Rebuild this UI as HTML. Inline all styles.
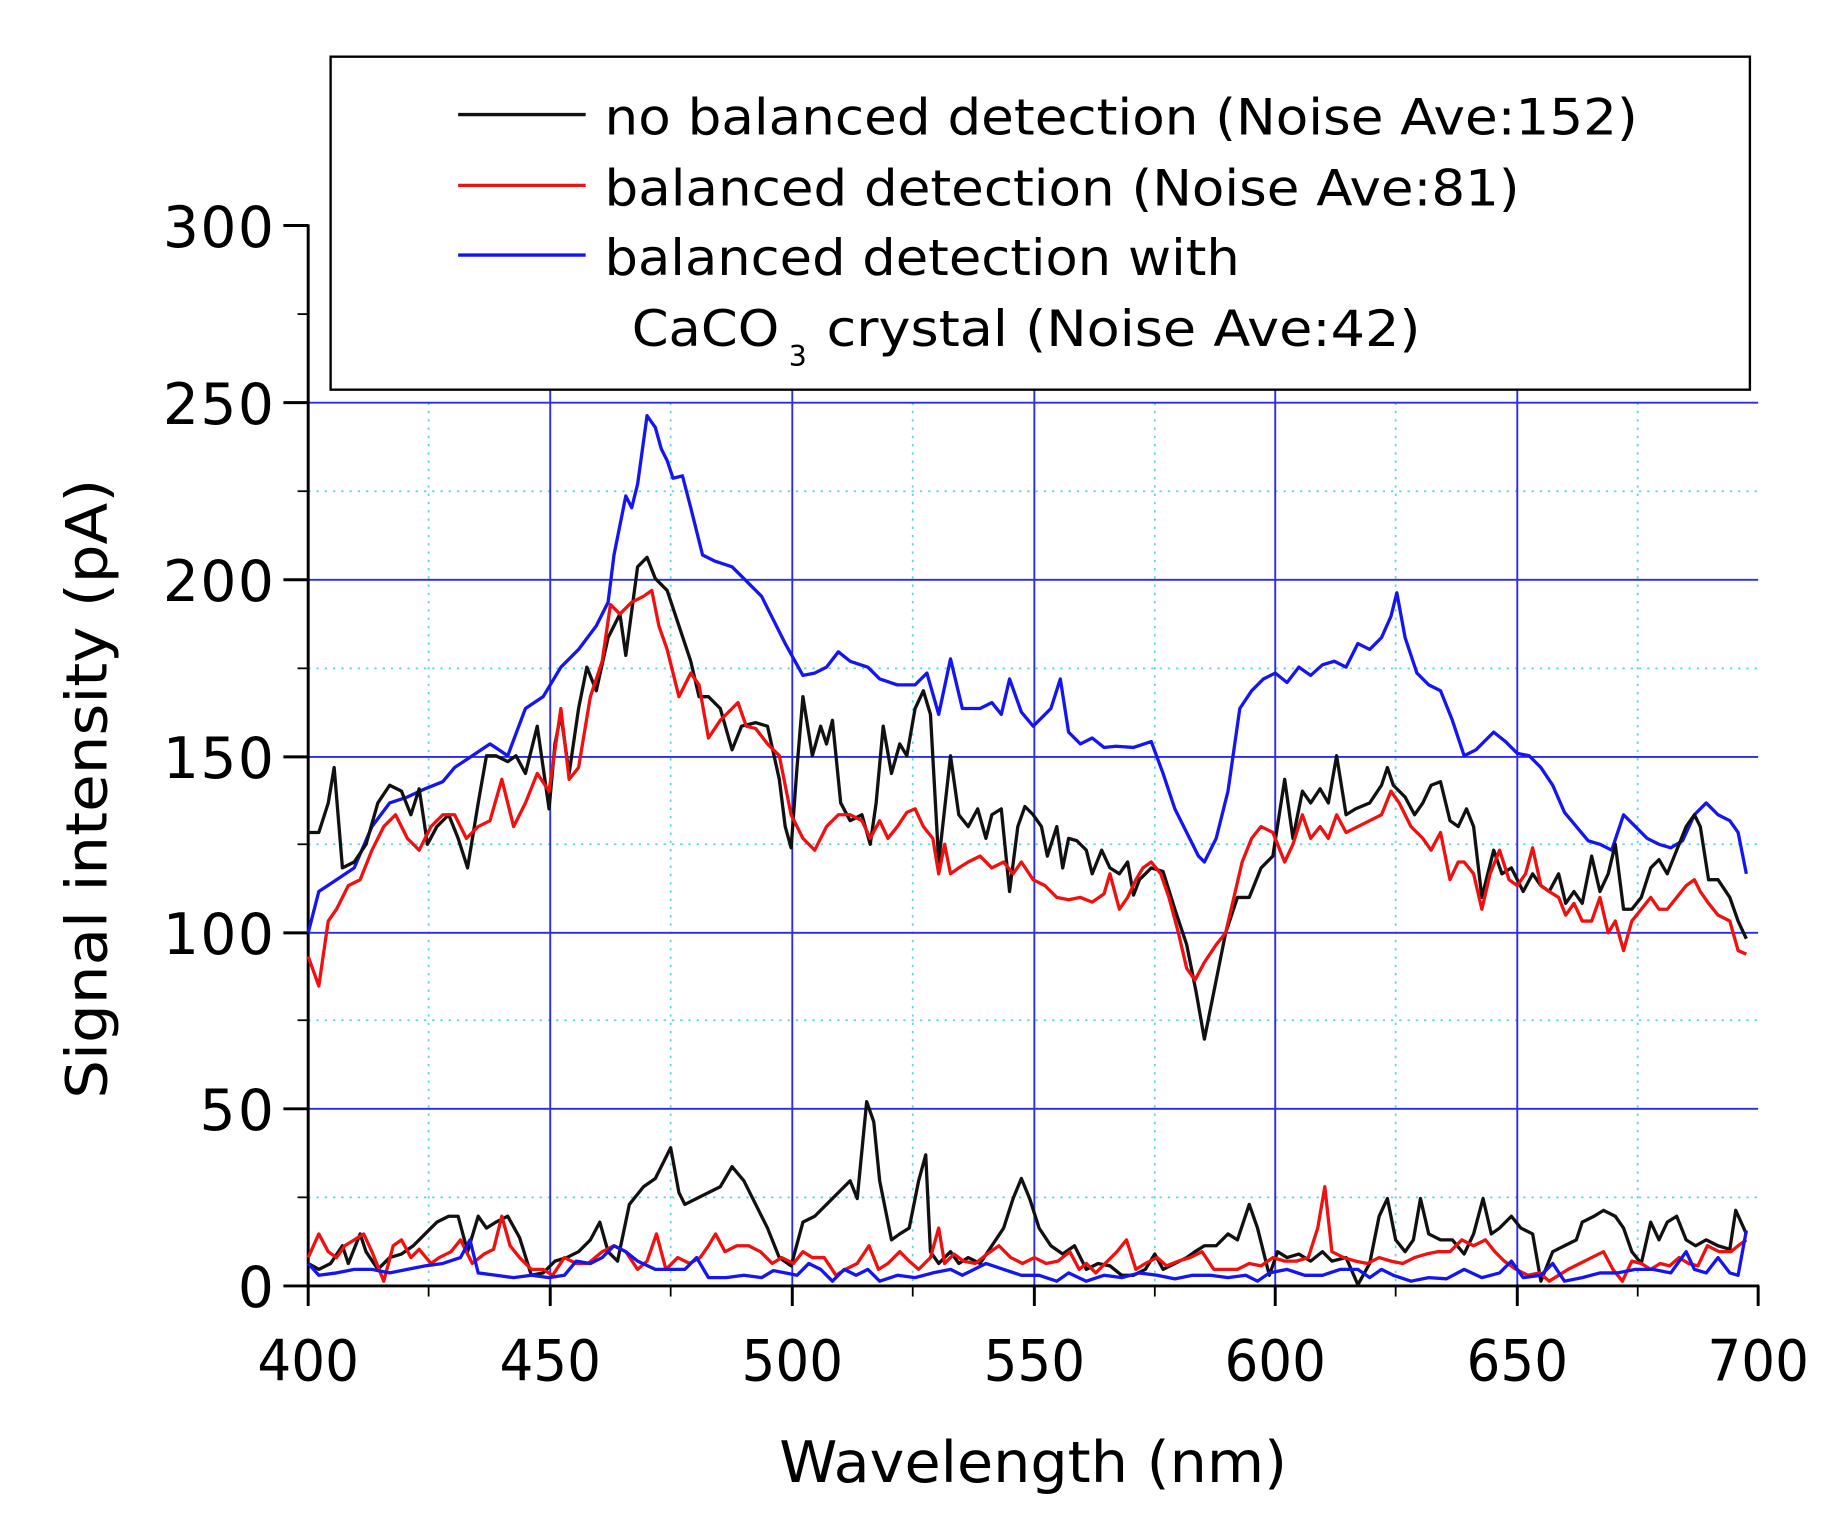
<!DOCTYPE html>
<html><head><meta charset="utf-8"><style>
html,body{margin:0;padding:0;background:#fff;}
svg{display:block;}
text{font-family:"DejaVu Sans","Liberation Sans",sans-serif;}
</style></head><body>
<svg width="1842" height="1517" viewBox="0 0 1560 1284.7" preserveAspectRatio="none">
<rect width="1560" height="1285" fill="#fff"/>
<g stroke="#5cd6e6" stroke-width="1.5" stroke-dasharray="2,5">
<line x1="363" y1="341" x2="363" y2="1089"/><line x1="568" y1="341" x2="568" y2="1089"/>
<line x1="773" y1="341" x2="773" y2="1089"/><line x1="978" y1="341" x2="978" y2="1089"/>
<line x1="1182" y1="341" x2="1182" y2="1089"/><line x1="1387" y1="341" x2="1387" y2="1089"/>
<line x1="261" y1="1014" x2="1489" y2="1014"/><line x1="261" y1="864" x2="1489" y2="864"/>
<line x1="261" y1="715" x2="1489" y2="715"/><line x1="261" y1="566" x2="1489" y2="566"/>
<line x1="261" y1="416" x2="1489" y2="416"/>
</g>
<g stroke="#2a2af0" stroke-width="1.6">
<line x1="261" y1="939" x2="1489" y2="939"/><line x1="261" y1="790" x2="1489" y2="790"/>
<line x1="261" y1="641" x2="1489" y2="641"/><line x1="261" y1="491" x2="1489" y2="491"/>
<line x1="261" y1="341" x2="1489" y2="341"/>
<line x1="466" y1="330" x2="466" y2="1089"/><line x1="671" y1="330" x2="671" y2="1089"/>
<line x1="876" y1="330" x2="876" y2="1089"/><line x1="1080" y1="330" x2="1080" y2="1089"/>
<line x1="1285" y1="330" x2="1285" y2="1089"/>
</g>
<g stroke="#000" stroke-width="2.5">
<line x1="261" y1="190" x2="261" y2="1090"/>
<line x1="260" y1="1089" x2="1490" y2="1089"/>
<line x1="240" y1="191" x2="261" y2="191"/><line x1="240" y1="341" x2="261" y2="341"/>
<line x1="240" y1="491" x2="261" y2="491"/><line x1="240" y1="641" x2="261" y2="641"/>
<line x1="240" y1="790" x2="261" y2="790"/><line x1="240" y1="939" x2="261" y2="939"/>
<line x1="240" y1="1089" x2="261" y2="1089"/>
<line x1="261" y1="1089" x2="261" y2="1106"/><line x1="466" y1="1089" x2="466" y2="1106"/>
<line x1="671" y1="1089" x2="671" y2="1106"/><line x1="876" y1="1089" x2="876" y2="1106"/>
<line x1="1080" y1="1089" x2="1080" y2="1106"/><line x1="1285" y1="1089" x2="1285" y2="1106"/>
<line x1="1489" y1="1089" x2="1489" y2="1106"/>
</g>
<g stroke="#000" stroke-width="1.5">
<line x1="252" y1="266" x2="261" y2="266"/><line x1="252" y1="416" x2="261" y2="416"/>
<line x1="252" y1="566" x2="261" y2="566"/><line x1="252" y1="715" x2="261" y2="715"/>
<line x1="252" y1="864" x2="261" y2="864"/><line x1="252" y1="1014" x2="261" y2="1014"/>
<line x1="363" y1="1089" x2="363" y2="1098"/><line x1="568" y1="1089" x2="568" y2="1098"/>
<line x1="773" y1="1089" x2="773" y2="1098"/><line x1="978" y1="1089" x2="978" y2="1098"/>
<line x1="1182" y1="1089" x2="1182" y2="1098"/><line x1="1387" y1="1089" x2="1387" y2="1098"/>
</g>
<g font-size="48" text-anchor="end" fill="#000" lengthAdjust="spacingAndGlyphs">
<text x="232" y="209" textLength="94">300</text><text x="232" y="359" textLength="94">250</text><text x="232" y="509" textLength="94">200</text>
<text x="232" y="659" textLength="94">150</text><text x="232" y="808" textLength="94">100</text><text x="232" y="957" textLength="63">50</text>
<text x="232" y="1107" textLength="31">0</text>
</g>
<g font-size="48" text-anchor="middle" fill="#000">
<text x="261" y="1169" textLength="86" lengthAdjust="spacingAndGlyphs">400</text><text x="466" y="1169" textLength="86" lengthAdjust="spacingAndGlyphs">450</text><text x="671" y="1169" textLength="86" lengthAdjust="spacingAndGlyphs">500</text>
<text x="876" y="1169" textLength="86" lengthAdjust="spacingAndGlyphs">550</text><text x="1080" y="1169" textLength="86" lengthAdjust="spacingAndGlyphs">600</text><text x="1285" y="1169" textLength="86" lengthAdjust="spacingAndGlyphs">650</text>
<text x="1489" y="1169" textLength="86" lengthAdjust="spacingAndGlyphs">700</text>
<text x="875" y="1255" font-size="48" textLength="430" lengthAdjust="spacingAndGlyphs">Wavelength (nm)</text>
<text transform="translate(90,668) rotate(-90)" font-size="48" textLength="525" lengthAdjust="spacingAndGlyphs">Signal intensity (pA)</text>
</g>
<g fill="none" stroke-width="2.8" stroke-linejoin="round">
<polyline stroke="#1515f0" points="261,790 270,755 285,745 300,735 315,700 330,680 345,675 360,668 375,662 385,650 400,640 415,630 430,640 445,600 460,590 475,565 490,550 505,530 515,510 520,470 530,420 535,430 540,410 548,352 555,362 560,380 565,390 570,405 578,403 585,430 595,470 605,475 620,480 630,490 645,505 655,525 665,545 680,572 690,570 700,565 710,552 720,560 735,565 745,575 760,580 775,580 785,570 795,605 805,558 815,600 830,600 840,595 848,605 855,575 865,603 875,615 885,605 890,600 898,575 905,620 915,630 925,625 935,633 945,632 960,633 975,628 985,655 995,685 1005,705 1015,725 1020,730 1030,710 1040,670 1050,600 1060,585 1070,575 1080,570 1090,578 1100,565 1110,572 1120,563 1130,560 1140,565 1150,545 1160,550 1170,540 1178,522 1183,502 1190,540 1200,570 1210,580 1220,585 1230,610 1240,640 1250,635 1265,620 1275,628 1285,638 1295,640 1305,650 1315,665 1325,688 1335,700 1345,712 1355,715 1365,720 1375,690 1385,700 1395,710 1405,715 1415,718 1425,712 1435,690 1445,680 1455,690 1465,695 1472,705 1479,740"/>
<polyline stroke="#111" points="261,705 270,705 278,680 283,650 290,735 300,730 310,715 320,680 330,665 340,670 348,690 355,668 362,715 370,700 380,690 388,710 396,735 405,680 412,640 420,640 430,645 437,640 445,655 455,615 465,685 470,630 475,605 482,655 490,600 497,565 505,585 515,540 525,520 530,555 540,480 548,472 555,490 565,500 575,530 585,560 592,590 600,590 610,600 620,635 628,615 640,612 650,615 660,660 665,700 670,718 675,650 680,590 688,640 695,615 700,630 705,610 712,680 720,695 730,690 737,715 742,680 748,615 755,655 762,630 768,640 775,600 782,585 788,605 795,730 805,640 812,690 820,700 828,685 835,710 840,690 848,685 855,755 862,700 868,683 875,690 882,700 887,725 895,700 900,735 905,710 912,712 920,720 925,740 933,720 940,735 948,740 955,730 960,758 965,745 975,735 985,738 995,770 1005,800 1013,840 1020,880 1028,840 1038,790 1048,760 1058,760 1068,735 1078,725 1088,660 1095,710 1103,670 1110,680 1118,668 1125,680 1132,640 1140,690 1148,685 1160,680 1170,665 1175,650 1180,665 1190,675 1198,690 1205,680 1212,665 1220,662 1228,695 1235,700 1242,685 1248,700 1255,760 1265,720 1272,740 1280,735 1290,755 1298,740 1305,750 1312,755 1320,740 1326,765 1333,755 1340,765 1348,725 1355,755 1362,740 1368,715 1375,770 1382,770 1390,760 1398,735 1405,728 1412,740 1420,720 1428,700 1435,690 1440,700 1447,745 1455,745 1465,760 1472,780 1479,795"/>
<polyline stroke="#f01010" points="261,810 270,835 278,780 285,770 295,750 305,745 315,720 325,700 335,690 345,710 355,720 365,700 375,690 385,690 395,710 405,700 415,695 425,660 435,700 445,680 455,655 465,670 475,600 482,660 490,650 500,590 510,560 517,512 525,520 535,510 545,505 552,500 558,530 565,550 575,590 585,570 592,580 600,625 610,610 620,600 625,595 632,615 640,617 650,630 660,640 670,690 680,710 690,720 700,700 710,690 720,690 730,695 737,710 745,695 752,710 760,700 768,688 775,685 782,700 790,710 795,740 800,715 805,740 812,735 820,730 830,725 840,735 850,730 858,740 865,730 875,745 885,750 895,760 905,762 915,760 925,764 935,757 940,740 948,770 955,760 962,745 968,735 975,730 983,740 990,760 998,790 1005,820 1012,830 1020,815 1030,800 1038,790 1045,760 1052,730 1060,710 1068,700 1078,705 1088,730 1095,715 1103,690 1110,710 1118,700 1125,710 1132,690 1140,705 1150,700 1160,695 1170,690 1178,670 1185,680 1195,700 1205,710 1212,720 1220,705 1228,745 1235,730 1240,730 1248,740 1255,770 1262,740 1270,720 1278,745 1285,750 1292,740 1298,718 1305,750 1312,755 1320,760 1326,775 1333,765 1340,780 1348,780 1355,760 1362,790 1368,780 1375,805 1382,780 1390,770 1398,760 1405,770 1412,770 1420,760 1428,750 1435,745 1440,755 1447,765 1455,775 1465,780 1472,805 1479,808"/>
<polyline stroke="#111" points="261,1070 270,1075 280,1070 290,1055 295,1070 305,1045 310,1060 320,1075 330,1065 340,1062 350,1055 360,1045 370,1035 380,1030 388,1030 396,1060 405,1030 412,1040 420,1035 430,1030 440,1048 450,1080 460,1078 470,1068 480,1065 490,1060 500,1050 508,1035 515,1060 523,1068 533,1020 545,1005 555,998 568,972 575,1010 580,1020 590,1015 600,1010 610,1005 620,988 630,1000 640,1020 650,1040 660,1065 670,1072 680,1035 690,1030 700,1020 710,1010 720,1000 726,1015 734,933 740,950 745,1000 755,1050 762,1045 770,1040 778,1000 784,978 788,1060 795,1070 805,1060 812,1070 820,1065 830,1070 840,1055 850,1040 858,1015 865,998 872,1015 880,1040 890,1055 900,1062 910,1055 920,1075 930,1070 940,1072 950,1080 960,1080 970,1075 978,1062 985,1075 995,1070 1005,1065 1012,1060 1020,1055 1030,1055 1040,1045 1048,1050 1058,1020 1065,1040 1075,1080 1082,1060 1090,1065 1100,1062 1110,1068 1120,1060 1128,1068 1140,1065 1150,1088 1160,1070 1168,1030 1175,1015 1182,1050 1190,1060 1197,1050 1203,1015 1210,1045 1220,1050 1230,1050 1240,1062 1248,1045 1256,1015 1263,1045 1270,1040 1280,1030 1288,1040 1298,1045 1305,1085 1315,1060 1325,1055 1335,1050 1340,1035 1350,1030 1358,1025 1368,1030 1375,1040 1382,1060 1390,1070 1398,1035 1405,1050 1412,1035 1420,1030 1428,1050 1436,1055 1445,1050 1455,1055 1465,1058 1470,1025 1479,1045"/>
<polyline stroke="#f01010" points="261,1065 270,1045 278,1060 285,1065 292,1055 300,1050 308,1045 315,1060 325,1085 333,1055 340,1050 348,1065 355,1058 365,1070 372,1065 382,1060 390,1050 400,1070 410,1062 418,1058 425,1030 432,1055 440,1065 450,1075 460,1075 468,1080 478,1065 488,1070 498,1070 510,1060 520,1055 530,1060 540,1075 548,1068 556,1045 564,1075 574,1065 584,1070 593,1065 600,1055 606,1045 614,1060 624,1055 634,1055 644,1060 654,1070 662,1065 672,1070 680,1060 688,1065 698,1065 708,1080 716,1075 726,1070 736,1055 744,1075 752,1070 762,1060 770,1068 778,1075 788,1065 795,1040 800,1070 808,1062 816,1068 826,1070 836,1062 846,1055 856,1065 866,1070 876,1065 886,1070 896,1068 906,1060 914,1075 920,1070 928,1078 936,1070 946,1060 954,1050 962,1075 970,1070 980,1065 988,1072 998,1068 1008,1065 1018,1060 1028,1075 1038,1075 1048,1075 1058,1070 1068,1072 1078,1065 1088,1068 1098,1068 1108,1065 1116,1040 1122,1005 1128,1060 1138,1065 1148,1068 1158,1070 1168,1065 1178,1068 1188,1070 1198,1065 1208,1062 1218,1060 1228,1060 1238,1050 1248,1055 1258,1050 1266,1060 1274,1068 1284,1075 1294,1080 1304,1078 1312,1085 1320,1080 1328,1075 1338,1070 1348,1065 1358,1060 1366,1075 1374,1085 1382,1068 1390,1070 1398,1075 1406,1070 1414,1072 1422,1065 1430,1070 1438,1072 1446,1055 1456,1060 1466,1060 1472,1055 1479,1050"/>
<polyline stroke="#1515f0" points="261,1070 270,1080 285,1078 300,1075 315,1075 330,1078 345,1075 360,1072 375,1070 390,1065 398,1050 405,1078 420,1080 435,1082 450,1080 465,1082 478,1080 488,1068 500,1070 510,1065 520,1055 530,1060 540,1068 555,1075 570,1075 580,1075 590,1065 600,1082 615,1082 630,1080 645,1082 655,1076 665,1078 675,1080 685,1070 695,1075 705,1085 715,1075 725,1080 735,1075 745,1085 760,1080 775,1082 790,1078 805,1075 815,1080 825,1075 835,1070 850,1075 865,1080 880,1080 895,1085 905,1078 920,1085 935,1080 950,1082 965,1078 980,1080 995,1083 1010,1080 1025,1080 1040,1082 1055,1080 1065,1085 1075,1078 1090,1075 1105,1080 1120,1080 1135,1075 1150,1075 1160,1082 1170,1075 1180,1080 1195,1085 1210,1082 1225,1083 1240,1075 1255,1082 1270,1078 1280,1068 1290,1082 1305,1080 1315,1070 1325,1085 1340,1082 1355,1078 1370,1078 1385,1075 1400,1075 1415,1078 1428,1060 1435,1075 1445,1078 1455,1065 1465,1078 1472,1080 1479,1042"/>
</g>
<rect x="280" y="48" width="1202" height="282" fill="#fff" stroke="#000" stroke-width="2"/>
<g stroke-width="2.8">
<line x1="388" y1="97" x2="496" y2="97" stroke="#111"/>
<line x1="388" y1="157" x2="496" y2="157" stroke="#f01010"/>
<line x1="388" y1="216" x2="496" y2="216" stroke="#1515f0"/>
</g>
<g font-size="42" fill="#000" lengthAdjust="spacingAndGlyphs">
<text x="512" y="114" textLength="875" lengthAdjust="spacingAndGlyphs">no balanced detection (Noise Ave:152)</text>
<text x="512" y="174" textLength="775" lengthAdjust="spacingAndGlyphs">balanced detection (Noise Ave:81)</text>
<text x="512" y="233" textLength="538" lengthAdjust="spacingAndGlyphs">balanced detection with</text>
<text x="535" y="293" textLength="125" lengthAdjust="spacingAndGlyphs">CaCO</text>
<text x="668" y="310" font-size="24">3</text>
<text x="700" y="293" textLength="503" lengthAdjust="spacingAndGlyphs">crystal (Noise Ave:42)</text>
</g>
</svg>
</body></html>
